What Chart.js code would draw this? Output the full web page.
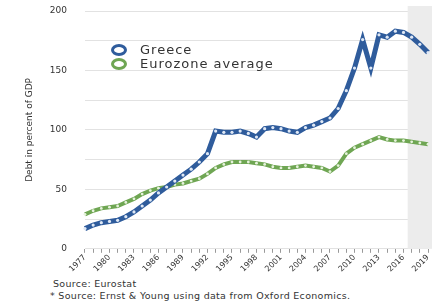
<!DOCTYPE html>
<html>
<head>
<meta charset="utf-8">
<script src="https://cdn.jsdelivr.net/npm/chart.js@4.4.1/dist/chart.umd.min.js"></script>
<style>
  html, body { margin: 0; padding: 0; background: #fff; }
  #wrap { position: relative; width: 436px; height: 302px; font-family: "DejaVu Sans", sans-serif; }
  #box { position: absolute; left: 0; top: 0; width: 436px; height: 274px; }
  .legend { position: absolute; left: 111px; top: 43px; color: #333; font-size: 13px; letter-spacing: 1px; line-height: 14px; }
  .legend .row { display: flex; align-items: center; height: 14px; }
  .legend .mark { width: 10px; height: 6px; border-radius: 50%; border: 3px solid; background: #fff; margin-right: 13px; }
  .src { position: absolute; left: 53px; font-size: 9.5px; color: #333; letter-spacing: 0.3px; white-space: nowrap; }
</style>
</head>
<body>
<div id="wrap">
  <div id="box"><canvas id="debt" width="436" height="274"></canvas></div>
  <div class="legend">
    <div class="row"><span class="mark" style="border-color:#2f5c9c"></span>Greece</div>
    <div class="row"><span class="mark" style="border-color:#6fa653"></span>Eurozone average</div>
  </div>
  <div class="src" style="top:278px">Source: Eurostat</div>
  <div class="src" style="top:290px;left:50px">* Source: Ernst &amp; Young using data from Oxford Economics.</div>
</div>
<script>
// yearly values, debt in percent of GDP
const years = [];
for (let y = 1977; y <= 2019; y++) years.push(String(y));

const greece = [17, 20, 22, 23, 24, 27, 31, 36, 41, 47, 52, 57, 62, 67, 73, 80, 99, 98,
    98, 99, 97, 94, 101, 102, 101, 99, 98, 102, 104, 107, 110, 118, 133, 152, 176, 152,
    180, 178, 183, 182, 178, 172, 165];
const eurozone = [29, 32, 34, 35, 36, 39, 42, 46, 49, 51, 52, 54, 55, 57, 59, 63, 68, 71,
    73, 73, 73, 72, 71, 69, 68, 68, 69, 70, 69, 68, 65, 70, 80, 85, 88, 91, 94, 92,
    91, 91, 90, 89, 88];
const yTickLabels = [0, 50, 100, 150, 200];
const forecastStart = "2017";

// grey band behind the forecast years
const shadePlugin = {
    id: "shade",
    beforeDatasetsDraw(chart) {
        const { ctx, chartArea, scales } = chart;
        const x0 = scales.x.getPixelForValue(years.indexOf(forecastStart)) - 4;
        ctx.save();
        ctx.fillStyle = "#ececec";
        ctx.fillRect(x0, chartArea.top - 5, chartArea.right + 4 - x0, chartArea.bottom - chartArea.top + 5);
        ctx.restore();
    }
};

new Chart(document.getElementById("debt").getContext("2d"), {
    type: "line",
    data: {
        labels: years,
        datasets: [{
            label: "Greece",
            data: greece,
            borderColor: "#2f5c9c",
            borderWidth: 5,
            pointRadius: 1.6,
            pointBackgroundColor: "#dfe8f5",
            pointBorderWidth: 0,
            tension: 0
        }, {
            label: "Eurozone average",
            data: eurozone,
            borderColor: "#6fa653",
            borderWidth: 4,
            pointRadius: 1.4,
            pointBackgroundColor: "#e6f2dc",
            pointBorderWidth: 0,
            tension: 0
        }]
    },
    options: {
        responsive: false,
        animation: false,
        devicePixelRatio: 1,
        layout: { padding: { top: 11, right: 8, left: 13, bottom: 0 } },
        plugins: { legend: { display: false }, tooltip: { enabled: false } },
        scales: {
            x: {
                offset: false,
                grid: { display: true, drawOnChartArea: false, tickLength: 4, color: "#999" },
                border: { display: false },
                ticks: {
                    autoSkip: false,
                    maxRotation: 45,
                    minRotation: 45,
                    padding: 0,
                    color: "#333",
                    font: { family: "DejaVu Sans", size: 8 },
                    callback: (v, i) => ((1977 + i) % 3 === 1977 % 3 ? years[i] : "")
                }
            },
            y: {
                min: 0,
                max: 200,
                grid: { color: "#e2e2e2", drawTicks: true, tickLength: 14, tickColor: "rgba(0,0,0,0)" },
                border: { display: false },
                ticks: {
                    stepSize: 25,
                    padding: 4,
                    color: "#333",
                    font: { family: "DejaVu Sans", size: 9 },
                    callback: v => (yTickLabels.includes(v) ? v : "")
                },
                title: {
                    display: true,
                    text: "Debt in percent of GDP",
                    color: "#333",
                    font: { family: "DejaVu Sans", size: 9 },
                    padding: 11
                }
            }
        }
    },
    plugins: [shadePlugin]
});
</script>
</body>
</html>
